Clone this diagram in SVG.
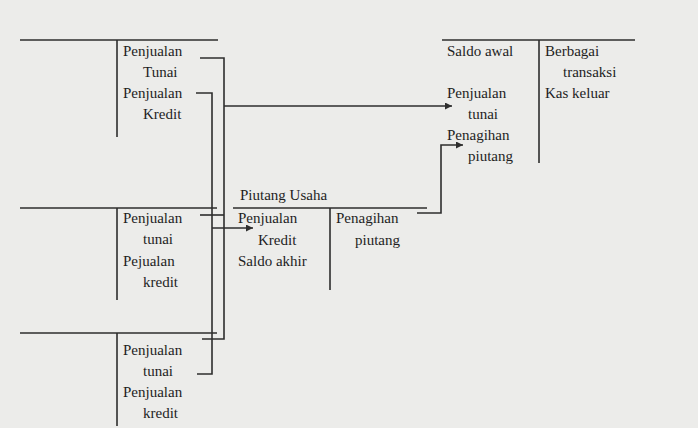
<svg xmlns="http://www.w3.org/2000/svg" width="698" height="428" viewBox="0 0 698 428">
<style>
.ln{stroke:#2e2e2e;stroke-width:1.6;fill:none}
.t{font-family:"Liberation Serif","DejaVu Serif",serif;font-size:15px;fill:#1e1e1e}
</style>
<defs>
<marker id="ah" viewBox="0 0 10 10" refX="10" refY="5" markerWidth="9" markerHeight="7" markerUnits="userSpaceOnUse" orient="auto">
<path d="M0,0 L10,5 L0,10 z" fill="#2e2e2e"/>
</marker>
</defs>
<rect width="698" height="428" fill="#ececea"/>
<g id="penjualan-1">
<path class="ln" d="M20,40 H218 M117,40 V137"/>
<text class="t" x="123" y="56">Penjualan</text>
<text class="t" x="143" y="77">Tunai</text>
<text class="t" x="123" y="98">Penjualan</text>
<text class="t" x="143" y="119">Kredit</text>
</g>
<g id="kas">
<path class="ln" d="M442,40 H635 M539,40 V163"/>
<text class="t" x="447" y="56">Saldo awal</text>
<text class="t" x="545" y="56">Berbagai</text>
<text class="t" x="563" y="77">transaksi</text>
<text class="t" x="447" y="98">Penjualan</text>
<text class="t" x="545" y="98">Kas keluar</text>
<text class="t" x="468" y="119">tunai</text>
<text class="t" x="447" y="140">Penagihan</text>
<text class="t" x="468" y="161">piutang</text>
</g>
<g id="penjualan-2">
<path class="ln" d="M20,208 H217 M117,208 V300"/>
<text class="t" x="123" y="223">Penjualan</text>
<text class="t" x="143" y="244">tunai</text>
<text class="t" x="123" y="266">Pejualan</text>
<text class="t" x="143" y="287">kredit</text>
</g>
<g id="piutang-usaha">
<text class="t" x="240" y="200">Piutang Usaha</text>
<path class="ln" d="M233,208 H427 M330,208 V290"/>
<text class="t" x="238" y="223">Penjualan</text>
<text class="t" x="258" y="245">Kredit</text>
<text class="t" x="238" y="266">Saldo akhir</text>
<text class="t" x="336" y="223">Penagihan</text>
<text class="t" x="355" y="245">piutang</text>
</g>
<g id="penjualan-3">
<path class="ln" d="M20,333 H217 M117,333 V426"/>
<text class="t" x="123" y="355">Penjualan</text>
<text class="t" x="143" y="376">tunai</text>
<text class="t" x="123" y="397">Penjualan</text>
<text class="t" x="143" y="418">kredit</text>
</g>
<g id="connectors">
<path class="ln" d="M200,58 H224 V339 H202"/>
<path class="ln" d="M200,215 H224"/>
<path class="ln" d="M224,106 H452" marker-end="url(#ah)"/>
<path class="ln" d="M196,93 H212 V374 H197"/>
<path class="ln" d="M212,228 H253" marker-end="url(#ah)"/>
<path class="ln" d="M417,213 H441 V145 H463" marker-end="url(#ah)"/>
</g>
</svg>
